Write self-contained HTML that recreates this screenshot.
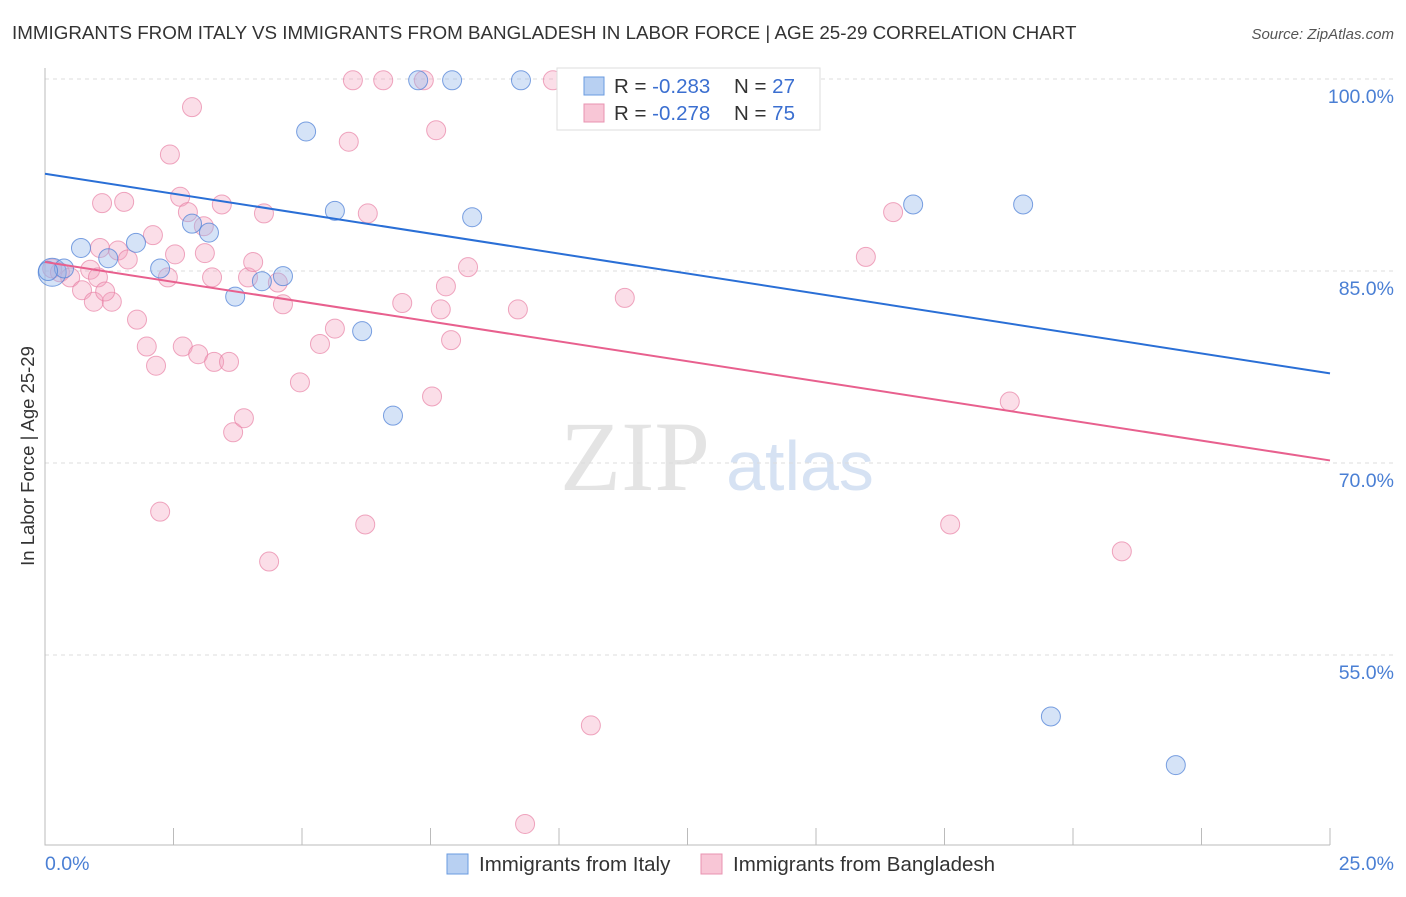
<!DOCTYPE html>
<html><head><meta charset="utf-8"><style>
body{margin:0;background:#fff;width:1406px;height:892px;overflow:hidden;font-family:"Liberation Sans",sans-serif}
</style></head><body>
<svg id="chart" width="1406" height="892" xmlns="http://www.w3.org/2000/svg">
<text x="12" y="39" font-size="18.8" fill="#333">IMMIGRANTS FROM ITALY VS IMMIGRANTS FROM BANGLADESH IN LABOR FORCE | AGE 25-29 CORRELATION CHART</text>
<text x="1394" y="39" font-size="15" fill="#555" font-style="italic" text-anchor="end">Source: ZipAtlas.com</text>
<text x="635" y="490" font-size="100" fill="#e4e4e4" font-family="Liberation Serif,serif" text-anchor="middle">ZIP</text>
<text x="800" y="490" font-size="70" fill="#d6e2f3" text-anchor="middle">atlas</text>
<g id="grid"></g><g id="axes"></g><g id="pts"></g><g id="trend"></g>
<text transform="translate(34,456) rotate(-90)" font-size="18.5" fill="#333" text-anchor="middle">In Labor Force | Age 25-29</text>
<text x="45" y="870" font-size="19.5" fill="#4a7fd4">0.0%</text>
<text x="1394" y="870" font-size="19.5" fill="#4a7fd4" text-anchor="end">25.0%</text>
<g>
<rect x="557" y="68" width="263" height="62" fill="#fff" stroke="#ddd"/>
<rect x="584" y="77" width="20" height="18" fill="#b8d0f2" stroke="#6a9be0"/>
<rect x="584" y="104" width="20" height="18" fill="#f8c6d6" stroke="#e893b0"/>
<text x="614" y="93" font-size="20.5" fill="#333">R = <tspan fill="#3b6fd0">-0.283</tspan></text>
<text x="734" y="93" font-size="20.5" fill="#333">N = <tspan fill="#3b6fd0">27</tspan></text>
<text x="614" y="120" font-size="20.5" fill="#333">R = <tspan fill="#3b6fd0">-0.278</tspan></text>
<text x="734" y="120" font-size="20.5" fill="#333">N = <tspan fill="#3b6fd0">75</tspan></text>
</g>
<g><rect x="447" y="854" width="21" height="20" fill="#b8d0f2" stroke="#6a9be0"/><text x="479" y="871" font-size="20.5" fill="#333">Immigrants from Italy</text></g>
<g><rect x="701" y="854" width="21" height="20" fill="#f8c6d6" stroke="#e893b0"/><text x="733" y="871" font-size="20.5" fill="#333">Immigrants from Bangladesh</text></g>
</svg>
<script>
const yTicks=[100,85,70,55];
const yTickLabels=["100.0%","85.0%","70.0%","55.0%"];
const italyX=[0.14,0.70,1.23,1.77,2.24,2.86,3.19,3.70,4.22,4.63,5.08,5.64,6.17,6.77,7.26,7.92,9.26,8.31,10.23,13.19,13.85,16.89,19.03,19.57,22.0,0.37,0.06];
const italyY=[84.9,86.8,86.0,87.2,85.2,88.7,88.0,83.0,84.2,84.6,95.9,89.7,80.3,73.7,99.9,99.9,99.9,89.2,99.9,99.9,99.9,90.2,90.2,50.2,46.4,85.2,85.0];
const bangX=[0.14,0.29,0.49,0.88,1.07,1.11,1.54,1.03,0.72,0.95,1.30,1.17,1.42,1.61,1.79,1.98,2.10,2.16,2.24,2.39,2.43,2.53,2.63,2.68,2.78,2.86,2.98,3.11,3.09,3.25,3.29,3.44,3.58,3.66,3.87,3.95,4.05,4.26,4.36,4.53,4.63,4.96,5.35,5.64,5.91,5.99,6.23,6.28,6.58,6.95,7.37,7.53,7.61,7.70,7.80,7.90,8.23,9.20,9.34,9.88,10.62,11.28,15.97,16.50,17.61,18.77,20.95];
const bangY=[85.2,84.9,84.5,85.1,86.8,90.3,90.4,84.5,83.5,82.6,82.6,83.4,86.6,85.9,81.2,79.1,87.8,77.6,66.2,84.5,94.1,86.3,90.8,79.1,89.6,97.8,78.5,86.4,88.5,84.5,77.9,90.2,77.9,72.4,73.5,84.5,85.7,89.5,62.3,84.1,82.4,76.3,79.3,80.5,95.1,99.9,65.2,89.5,99.9,82.5,99.9,75.2,96.0,82.0,83.8,79.6,85.3,82.0,41.8,99.9,49.5,82.9,86.1,89.6,65.2,74.8,63.1];
const italyTrend=[92.6,77.0];
const bangTrend=[85.7,70.2];
const NS="http://www.w3.org/2000/svg";
const X=v=>45+v/25*1285, Y=v=>79+(100-v)*12.8;
function mk(t,a,p){const e=document.createElementNS(NS,t);for(const k in a)e.setAttribute(k,a[k]);p.appendChild(e);return e;}
const grid=document.getElementById('grid'),axes=document.getElementById('axes'),pts=document.getElementById('pts'),tr=document.getElementById('trend');
yTicks.forEach((v,i)=>{
 const l=mk('line',{x1:45,x2:1394,y1:Y(v),y2:Y(v),stroke:'#dcdcdc','stroke-dasharray':'4,4'},grid);
 
 
 const t=mk('text',{x:1394,y:Y(v)+24,'font-size':19.5,fill:'#4a7fd4','text-anchor':'end'},grid);
 t.textContent=yTickLabels[i];
 
 
});
const ax=mk('path',{d:'M45,68V845H1330',stroke:'#bbb',fill:'none'},axes);


for(let k=0;k<=10;k++){const x=X(k*2.5);const t=mk('line',{x1:x,x2:x,y1:828,y2:845,stroke:'#bbb'},axes);
 
 }
bangX.forEach((v,i)=>{const c=mk('circle',{cx:X(v),cy:Y(bangY[i]),r:9.5,fill:'rgba(244,160,190,0.35)',stroke:'rgba(232,130,165,0.7)','stroke-width':1},pts);
 
 });
italyX.forEach((v,i)=>{const c=mk('circle',{cx:X(v),cy:Y(italyY[i]),r:i==0?14:9.5,fill:'rgba(150,185,235,0.4)',stroke:'rgba(80,130,215,0.75)','stroke-width':1},pts);
 
 });
const l1=mk('line',{x1:X(0),x2:X(25),y1:Y(italyTrend[0]),y2:Y(italyTrend[1]),stroke:'#2a6fd6','stroke-width':2},tr);


const l2=mk('line',{x1:X(0),x2:X(25),y1:Y(bangTrend[0]),y2:Y(bangTrend[1]),stroke:'#e8608e','stroke-width':2},tr);


</script>
</body></html>
